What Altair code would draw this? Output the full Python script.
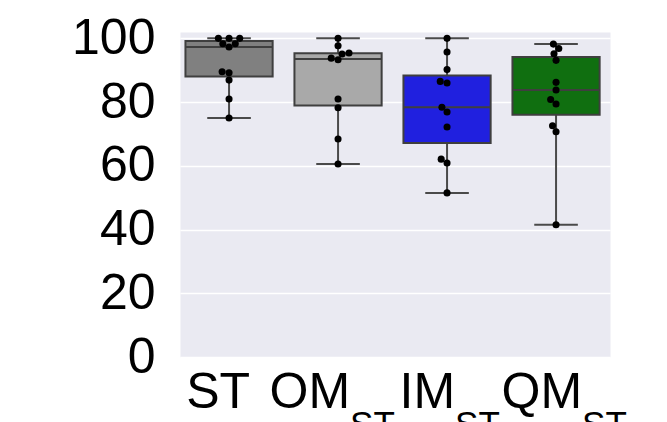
import altair as alt
import pandas as pd
import numpy as np

# ---- data ----
categories = ["ST", "OM_ST", "IM_ST", "QM_ST"]
label_main = ["ST", "OM", "IM", "QM"]
label_sub = ["", "ST", "ST", "ST"]
st_values = [100, 100, 100, 98.3, 98.3, 97.3, 89.5, 89.2, 86.9, 81.0, 75.0]
om_values = [100, 97.7, 95.4, 95.1, 93.8, 93.3, 81.0, 78.2, 68.4, 60.6]
im_values = [100, 95.7, 90.2, 86.5, 86.0, 78.4, 76.9, 72.2, 62.1, 60.9, 51.5]
qm_values = [98.2, 96.8, 95.2, 93.1, 86.2, 83.8, 80.8, 79.4, 72.6, 70.7, 41.5]
y_ticks = [0, 20, 40, 60, 80, 100]

# ---- style ----
box_colors = ["#808080", "#A9A9A9", "#2020DF", "#106F10"]
edge = "#3f3f3f"
bg = "#EAEAF2"
font = "Liberation Sans"
W, H = 430, 325
x_dom = [-0.45, 3.495]
y_dom = [0, 102]
label_nudge_px = [21, 12, 8, 26]   # anchor of label split point relative to tick
dot_d = 7.0                         # swarm spacing in px

ppu_x = W / (x_dom[1] - x_dom[0])
ppu_y = H / (y_dom[1] - y_dom[0])


def swarm(values):
    """Simple beeswarm (like seaborn): offsets in px."""
    order = np.argsort(values, kind="stable")
    placed = []
    offs = [0.0] * len(values)
    for i in order:
        y = values[i] * ppu_y
        neigh = [(px, py) for px, py in placed if abs(py - y) < dot_d]
        cands = [0.0]
        lefts, rights = [], []
        for px, py in neigh:
            dx = np.sqrt(dot_d ** 2 - (py - y) ** 2)
            lefts.append(px - dx)
            rights.append(px + dx)
        cands += lefts + rights
        cands.sort(key=abs)
        choice = cands[-1]
        for c in cands:
            if all((c - px) ** 2 + (y - py) ** 2 >= dot_d ** 2 - 1e-6 for px, py in neigh):
                choice = c
                break
        offs[i] = choice
        placed.append((choice, y))
    return offs


groups = [st_values, om_values, im_values, qm_values]
pts_rows, stat_rows = [], []
for k, (cat, vals) in enumerate(zip(categories, groups)):
    offs = swarm(vals)
    for v, o in zip(vals, offs):
        pts_rows.append({"cat": cat, "x": k + o / ppu_x, "v": v})
    a = np.array(vals, dtype=float)
    stat_rows.append({
        "cat": cat, "idx": k,
        "q1": float(np.percentile(a, 25)),
        "med": float(np.percentile(a, 50)),
        "q3": float(np.percentile(a, 75)),
        "lo": float(a.min()), "hi": float(a.max()),
        "color": box_colors[k],
    })
points = pd.DataFrame(pts_rows)
stats = pd.DataFrame(stat_rows)
labels = pd.DataFrame({
    "x": [k + label_nudge_px[k] / ppu_x for k in range(len(categories))],
    "main": label_main,
    "sub": label_sub,
})

xs = alt.Scale(domain=x_dom, nice=False, zero=False)
ys = alt.Scale(domain=y_dom, nice=False, zero=False)
yaxis = alt.Axis(values=y_ticks, labelFontSize=50, labelFont=font, labelColor="black",
                 ticks=False, tickSize=0, domain=False, labelPadding=25,
                 grid=True, gridColor="white", gridWidth=1.6, title=None)


def Y(field):
    return alt.Y(field, type="quantitative", scale=ys, axis=yaxis)


def X(field):
    return alt.X(field, type="quantitative", scale=xs, axis=None)


base = alt.Chart(stats).transform_calculate(
    xl="datum.idx - 0.4", xr="datum.idx + 0.4",
    cl="datum.idx - 0.2", cr="datum.idx + 0.2",
)

whisker = base.mark_rule(color="#4a4a4a", strokeWidth=2).encode(
    x=X("idx"), y=Y("lo"), y2="hi")
cap_lo = base.mark_rule(color="#4a4a4a", strokeWidth=2).encode(
    x=X("cl"), x2="cr", y=Y("lo"))
cap_hi = base.mark_rule(color="#4a4a4a", strokeWidth=2).encode(
    x=X("cl"), x2="cr", y=Y("hi"))
box = base.mark_rect(stroke=edge, strokeWidth=2).encode(
    x=X("xl"), x2="xr", y=Y("q1"), y2="q3",
    fill=alt.Fill("color:N", scale=None))
median = base.mark_rule(color=edge, strokeWidth=2).encode(
    x=X("xl"), x2="xr", y=Y("med"))

dots = alt.Chart(points).mark_circle(color="black", opacity=1, size=50).encode(
    x=X("x"), y=Y("v"))

main_txt = alt.Chart(labels).mark_text(
    align="right", baseline="alphabetic", fontSize=50, font=font, color="black"
).encode(x=X("x"), y=alt.value(376), text="main:N")
sub_txt = alt.Chart(labels).mark_text(
    align="left", baseline="alphabetic", fontSize=35, font=font, color="black"
).encode(x=X("x"), y=alt.value(404), text="sub:N")

chart = alt.layer(whisker, cap_lo, cap_hi, box, median, dots, main_txt, sub_txt).properties(
    width=W, height=H,
    autosize=alt.AutoSizeParams(type="none"),
    padding={"left": 172, "top": 24, "right": 40, "bottom": 80},
    background="white",
).configure_view(fill=bg, stroke="transparent")

chart.save("out.html", embed_options={"renderer": "svg", "actions": False})
